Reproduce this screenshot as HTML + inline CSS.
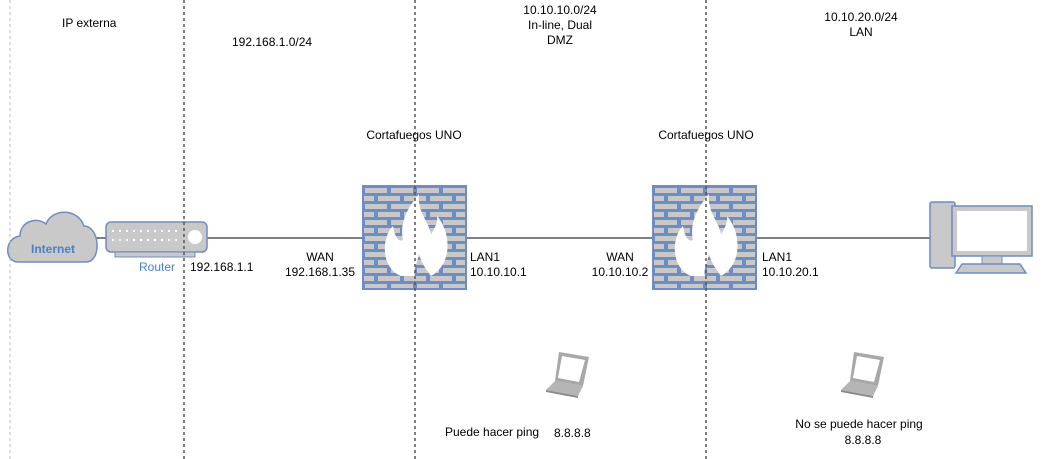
<!DOCTYPE html>
<html><head><meta charset="utf-8"><style>
html,body{margin:0;padding:0;background:#fff;}
svg{display:block;font-family:"Liberation Sans",Arial,sans-serif;}
</style></head><body>
<svg width="1049" height="459" viewBox="0 0 1049 459" xmlns="http://www.w3.org/2000/svg">
<defs>
<pattern id="brick" x="0" y="0" width="26" height="16" patternUnits="userSpaceOnUse">
<rect width="26" height="16" fill="#6f8cc4"/>
<rect x="2" y="2" width="22" height="5" fill="#c8c8c8"/>
<rect x="-11" y="10" width="22" height="5" fill="#c8c8c8"/>
<rect x="15" y="10" width="22" height="5" fill="#c8c8c8"/>
</pattern>
<g id="fw">
<rect x="0" y="0" width="103" height="103" fill="url(#brick)" stroke="#6f8cc4" stroke-width="2"/>
<path d="M38 90 C18 82 18 52 30 40 C32 52 36 56 40 54 C36 36 46 20 56 8 C54 26 66 36 68 48 C72 42 75 36 74 30 C88 46 90 78 68 90 C62 82 58 76 56 68 C54 78 50 84 52 90 Z" fill="#fff"/>
</g>
<g id="laptop">
<path d="M14 2 L44 7 L38 36 L10 31 Z" fill="#a8a8a8"/>
<path d="M17 6 L40 10 L34 32 L13 28 Z" fill="#fff"/>
<path d="M10 31 L38 36 L33 46 L1 40 Z" fill="#b5b5b5"/>
<path d="M1 40 L33 46 L33 48 L1 42 Z" fill="#8a8a8a"/>
</g>
</defs>
<line x1="95" y1="238" x2="930" y2="238" stroke="#555" stroke-width="1.5"/>
<!-- cloud -->
<path d="M18 262 C4 262 4 238 20 236 C20 222 36 216 46 224 C52 208 78 208 84 226 C100 226 102 262 86 262 Z" fill="#c9c9c9" stroke="#6f8cc4" stroke-width="1.5"/>
<text x="53" y="253" font-size="12" font-weight="bold" fill="#4a80c8" text-anchor="middle">Internet</text>
<!-- router -->
<rect x="106" y="222" width="101" height="30" rx="5" fill="#c9c9c9" stroke="#6f8cc4" stroke-width="1.5"/>
<rect x="115" y="252" width="80" height="5" fill="#c9c9c9" stroke="#6f8cc4" stroke-width="1"/>
<g fill="#fff"><circle cx="195" cy="237" r="7"/></g>
<g stroke="#fff" stroke-width="2" stroke-dasharray="2,5"><line x1="112" y1="231" x2="180" y2="231"/><line x1="112" y1="240" x2="180" y2="240"/></g>
<text x="157" y="271" font-size="12" fill="#4a80c8" text-anchor="middle">Router</text>
<use href="#fw" x="363" y="186"/>
<use href="#fw" x="653" y="186"/>
<g stroke-dasharray="3,3" stroke-width="1.5">
<line x1="10" y1="0" x2="10" y2="459" stroke="#bbb" stroke-width="1"/>
<line x1="184" y1="0" x2="184" y2="459" stroke="#555"/>
<line x1="415" y1="0" x2="415" y2="459" stroke="#555"/>
<line x1="706" y1="0" x2="706" y2="459" stroke="#555"/>
</g>
<!-- PC -->
<rect x="930" y="202" width="25" height="66" rx="2" fill="#c9c9c9" stroke="#6f8cc4" stroke-width="1.5"/>
<rect x="952" y="206" width="80" height="50" fill="#c9c9c9" stroke="#6f8cc4" stroke-width="1.5"/>
<rect x="957" y="211" width="70" height="40" fill="#fff"/>
<rect x="982" y="256" width="20" height="8" fill="#c9c9c9" stroke="#6f8cc4"/>
<path d="M962 264 L1020 264 L1026 273 L956 273 Z" fill="#c9c9c9" stroke="#6f8cc4" stroke-width="1.5"/>
<use href="#laptop" x="545" y="350"/>
<use href="#laptop" x="840" y="350"/>
<g font-size="12" fill="#000">
<text x="62" y="27">IP externa</text>
<text x="232" y="46">192.168.1.0/24</text>
<text x="560" y="14" text-anchor="middle">10.10.10.0/24</text>
<text x="560" y="29" text-anchor="middle">In-line, Dual</text>
<text x="560" y="44" text-anchor="middle">DMZ</text>
<text x="861" y="21" text-anchor="middle">10.10.20.0/24</text>
<text x="861" y="36" text-anchor="middle">LAN</text>
<text x="414" y="139" text-anchor="middle">Cortafuegos UNO</text>
<text x="706" y="139" text-anchor="middle">Cortafuegos UNO</text>
<text x="190" y="271">192.168.1.1</text>
<text x="320" y="261" text-anchor="middle">WAN</text>
<text x="320" y="276" text-anchor="middle">192.168.1.35</text>
<text x="470" y="261">LAN1</text>
<text x="470" y="276">10.10.10.1</text>
<text x="620" y="261" text-anchor="middle">WAN</text>
<text x="620" y="276" text-anchor="middle">10.10.10.2</text>
<text x="762" y="261">LAN1</text>
<text x="762" y="276">10.10.20.1</text>
<text x="445" y="436">Puede hacer ping</text>
<text x="554" y="437">8.8.8.8</text>
<text x="859" y="428" text-anchor="middle">No se puede hacer ping</text>
<text x="863" y="444" text-anchor="middle">8.8.8.8</text>
</g>
</svg>
</body></html>
